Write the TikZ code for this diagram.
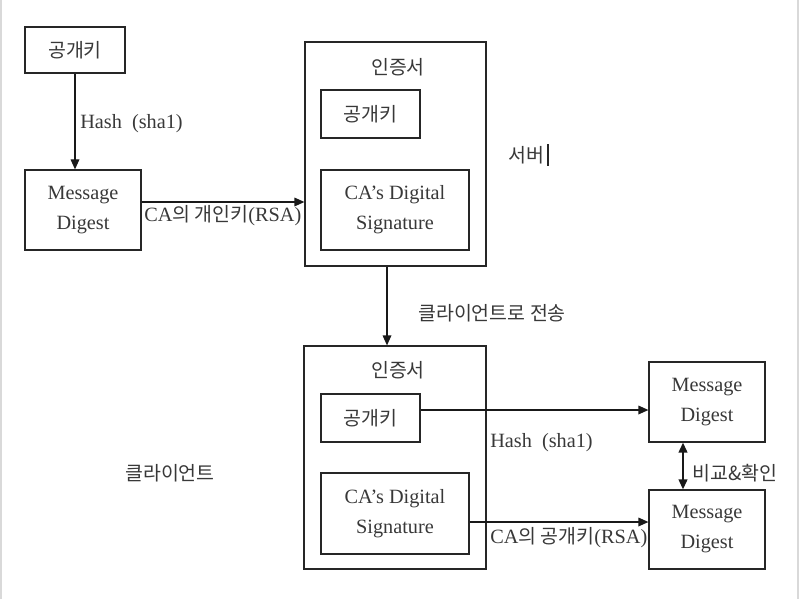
\documentclass[tikz,border=0pt]{standalone}
\usepackage{fontspec}
\setmainfont{Liberation Serif}
\newfontfamily\kr[Scale=0.96]{Noto Sans CJK KR}
\usetikzlibrary{arrows.meta}
\tikzset{
  bx/.style n args={2}{draw=black!85, line width=0.9pt, minimum width=#1*0.75pt, minimum height=#2*0.75pt, inner sep=0pt, align=center, text=black!78, font=\fontsize{15.2}{22.5}\selectfont},
  lbl/.style={inner sep=0pt, text=black!78, font=\fontsize{15.2}{17}\selectfont},
  arr/.style={draw=black!90, line width=0.9pt, -{Triangle[length=7.5pt,width=6.5pt]}},
  darr/.style={draw=black!90, line width=1.4pt, {Triangle[length=7.5pt,width=6.5pt]}-{Triangle[length=7.5pt,width=6.5pt]}}
}
\begin{document}
\begin{tikzpicture}[x=0.75pt,y=-0.75pt]
\useasboundingbox (0,0) rectangle (800,599);
\draw[black!15, line width=1pt] (1,0) -- (1,599) (798,0) -- (798,599);
% top left
\node[bx={100}{46}] (pk1) at (75,50) {\kr 공개키};
\node[bx={116}{80}] (md1) at (83,210) {Message\\Digest};
% server certificate
\node[bx={181}{224}] (server) at (395.5,154) {};
\node[lbl, anchor=center] (t1) at (398,67) {\kr 인증서};
\node[bx={99}{48}] (spk) at (370.5,114) {\kr 공개키};
\node[bx={148}{80}] (sds) at (395,210) {CA’s Digital\\Signature};
\node[lbl, anchor=west] (srv) at (508,155) {\kr 서버};
\draw[black!85, line width=1.6pt] (srv.east) ++(2.5pt,-8pt) coordinate (cur1) -- ++(0,16pt) coordinate (cur2);
% client certificate
\node[bx={182}{223}] (client) at (395,457.5) {};
\node[lbl, anchor=center] (t2) at (398,370) {\kr 인증서};
\node[bx={99}{48}] (cpk) at (370.5,418) {\kr 공개키};
\node[bx={148}{81}] (cds) at (395,513.5) {CA’s Digital\\Signature};
\node[bx={116}{80}] (md2) at (707,402) {Message\\Digest};
\node[bx={116}{79}] (md3) at (707,529.5) {Message\\Digest};
\node[lbl, anchor=west] (cl) at (125,473) {\kr 클라이언트};
% helper coordinates
\coordinate (xp) at (75,0);
\coordinate (xa) at (387,0);
\coordinate (ya) at (0,410);
\coordinate (yb) at (0,522);
\coordinate (xc) at (683,0);
\coordinate (yc) at (0,202);
% arrows
\draw[arr] (pk1.south -| xp) -- (md1.north -| xp);
\draw[arr] (md1.east |- yc) -- (server.west |- yc);
\draw[arr] (server.south -| xa) -- (client.north -| xa);
\draw[arr] (cpk.east |- ya) -- (md2.west |- ya);
\draw[arr] (cds.east |- yb) -- (md3.west |- yb);
\draw[darr] (md2.south -| xc) -- (md3.north -| xc);
% labels
\node[lbl, anchor=west] (h1) at (80,124) {Hash\hspace{0.5em}(sha1)};
\node[lbl, anchor=west] (r1) at (144,216) {CA{\kr 의 개인키}(RSA)};
\node[lbl, anchor=west] (tr) at (418,313) {\kr 클라이언트로 전송};
\node[lbl, anchor=west] (h2) at (490,443) {Hash\hspace{0.5em}(sha1)};
\node[lbl, anchor=west] (r2) at (490,538) {CA{\kr 의 공개키}(RSA)};
\node[lbl, anchor=west] (cmp) at (692,473) {\kr 비교\&확인};
\end{tikzpicture}
\end{document}
